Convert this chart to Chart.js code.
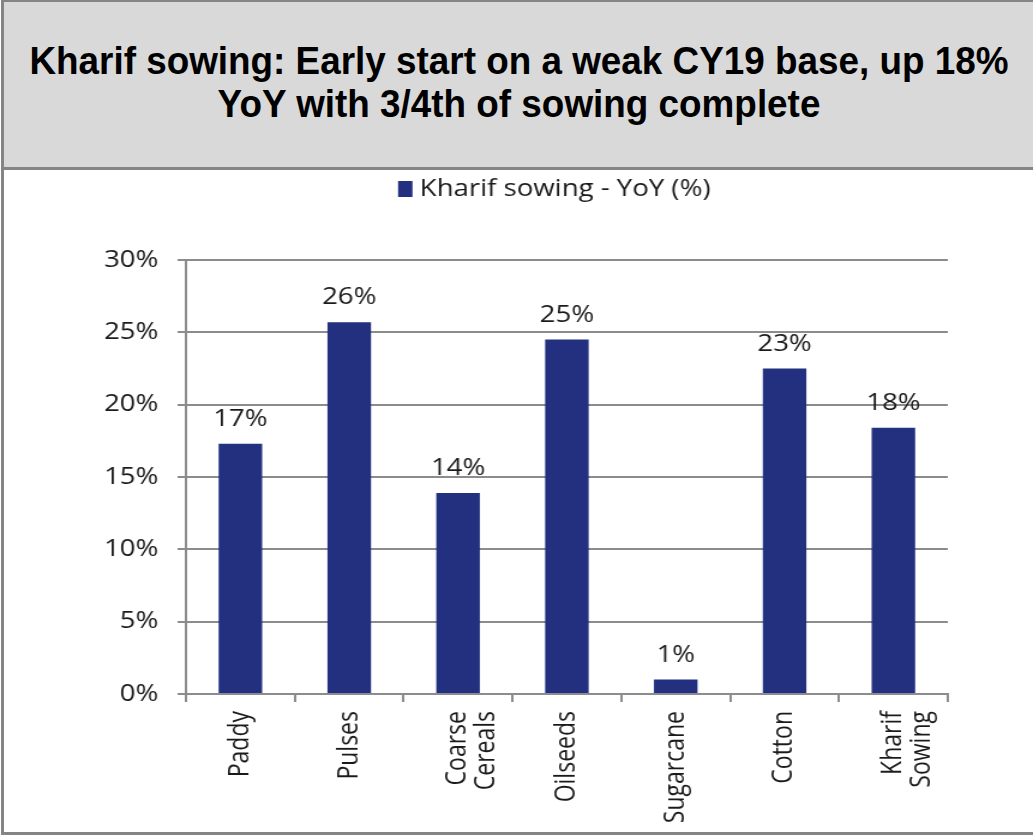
<!DOCTYPE html>
<html>
<head>
<meta charset="utf-8">
<script src="https://cdn.jsdelivr.net/npm/chart.js@4.4.1/dist/chart.umd.min.js"></script>
<style>
  html, body { margin: 0; padding: 0; background: #fff; }
  #page { position: relative; width: 1033px; height: 836px; overflow: hidden; }
  #titleBox {
    position: absolute; left: 1px; top: 0; width: 1040px; height: 165px;
    background: #d9d9d9; border: 3px solid #858585; border-top: 2px solid #858585;
    font-family: "Liberation Sans", Arial, sans-serif; font-weight: bold;
    font-size: 38px; line-height: 43px; text-align: center; color: #000;
  }
  #titleText { position: absolute; left: 0; width: 1030px; top: 38px; transform: scaleX(0.97); }
  #chartBox {
    position: absolute; left: 1px; top: 168px; width: 1040px; height: 664px;
    border-left: 3px solid #858585; border-bottom: 3px solid #858585;
  }
  #sowingChart { position: absolute; left: 0; top: 168px; }
</style>
</head>
<body>
<div id="page">
  <div id="titleBox"><div id="titleText">Kharif sowing: Early start on a weak CY19 base, up 18%<br>YoY with 3/4th of sowing complete</div></div>
  <div id="chartBox"></div>
  <canvas id="sowingChart" width="861" height="664" style="width:1033px;height:664px"></canvas>
</div>
<script>
// categories and values
const categories = ['Paddy', 'Pulses', ['Coarse', 'Cereals'], 'Oilseeds', 'Sugarcane', 'Cotton', ['Kharif', 'Sowing']];
const yoyGrowth = [17.3, 25.7, 13.9, 24.5, 1.0, 22.5, 18.4];
const seriesName = 'Kharif sowing - YoY (%)';
const yTicks = [0, 5, 10, 15, 20, 25, 30];

const barColor = '#22307f';
const gridColor = '#8c8c8c';
const textColor = '#1a1a1a';
const fontFamily = '"Open Sans", "Noto Sans", sans-serif';
const labelFont = { family: fontFamily, size: 23 };

// value labels above bars
const barLabels = {
    id: 'barLabels',
    afterDatasetsDraw(chart) {
        const ctx = chart.ctx;
        const meta = chart.getDatasetMeta(0);
        ctx.save();
        ctx.font = labelFont.size + 'px ' + fontFamily;
        ctx.fillStyle = textColor;
        ctx.textAlign = 'center';
        ctx.textBaseline = 'bottom';
        meta.data.forEach((bar, i) => {
            ctx.fillText(Math.round(yoyGrowth[i]) + '%', bar.x, bar.y - 13);
        });
        ctx.restore();
    }
};

// single-entry legend, drawn above the plot
const topLegend = {
    id: 'topLegend',
    afterDraw(chart) {
        const ctx = chart.ctx;
        ctx.save();
        ctx.font = labelFont.size + 'px ' + fontFamily;
        const textW = ctx.measureText(seriesName).width;
        const boxW = 12, gap = 6;
        const cx = 462;
        const x0 = cx - (boxW + gap + textW) / 2;
        ctx.fillStyle = barColor;
        ctx.fillRect(x0, 13, boxW, 16);
        ctx.fillStyle = textColor;
        ctx.textBaseline = 'middle';
        ctx.textAlign = 'left';
        ctx.fillText(seriesName, x0 + boxW + gap, 21);
        ctx.restore();
    }
};

const ctx = document.getElementById('sowingChart').getContext('2d');
const sowingChart = new Chart(ctx, {
    type: 'bar',
    data: {
        labels: categories,
        datasets: [{
            label: seriesName,
            data: yoyGrowth,
            backgroundColor: barColor,
            categoryPercentage: 1,
            barPercentage: 0.40
        }]
    },
    options: {
        responsive: false,
        animation: false,
        devicePixelRatio: 1,
        layout: { padding: { left: 0, right: 71, top: 92, bottom: 0 } },
        plugins: {
            legend: { display: false },
            tooltip: { enabled: false }
        },
        scales: {
            y: {
                min: 0,
                max: 30,
                afterBuildTicks(scale) {
                    scale.ticks = yTicks.map(v => ({ value: v }));
                },
                afterFit(scale) { scale.width = 155; },
                ticks: {
                    font: labelFont,
                    color: textColor,
                    padding: 16,
                    callback: v => v + '%'
                },
                grid: { color: gridColor, lineWidth: 2, tickLength: 7 },
                border: { color: gridColor, width: 2 }
            },
            x: {
                afterFit(scale) { scale.height = 138; },
                ticks: {
                    font: { ...labelFont, lineHeight: 1.02 },
                    color: textColor,
                    minRotation: 90,
                    maxRotation: 90,
                    padding: 9,
                    autoSkip: false
                },
                grid: { offset: true, drawOnChartArea: false, color: gridColor, lineWidth: 2, tickLength: 8 },
                border: { color: gridColor, width: 2 }
            }
        }
    },
    plugins: [barLabels, topLegend]
});
</script>
</body>
</html>
